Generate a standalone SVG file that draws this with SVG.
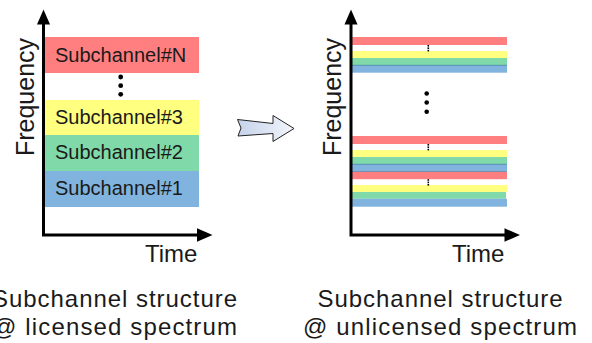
<svg xmlns="http://www.w3.org/2000/svg" width="592" height="343" viewBox="0 0 592 343">
  <defs>
    <style>
      text { font-family: "Liberation Sans", Arial, sans-serif; fill: #1a1a1a; }
      .lbl { font-size: 20px; }
      .axl { font-size: 24px; }
      .freq { font-size: 25px; text-anchor: middle; }
      .cap { font-size: 24px; text-anchor: middle; }
      .axis { stroke: #000; stroke-width: 3; fill: none; }
      .head { fill: #000; }
      .red { fill: #FF7F80; }
      .yel { fill: #FFFF80; }
      .grn { fill: #80D9A8; }
      .blu { fill: #80B4DE; }
      .sep { stroke: #3F7FA8; stroke-width: 0.8; }
      .dot { fill: #000; }
    </style>
    <linearGradient id="arrowFill" x1="0" y1="0" x2="1" y2="0">
      <stop offset="0" stop-color="#C5D3EA"/>
      <stop offset="1" stop-color="#F2F5FB"/>
    </linearGradient>
  </defs>

  <!-- Left chart: licensed spectrum -->
  <g id="licensed-bands">
    <rect class="red" x="43.5" y="37" width="155.5" height="36"/>
    <rect class="yel" x="43.5" y="100" width="155.5" height="35"/>
    <rect class="grn" x="43.5" y="135" width="155.5" height="36"/>
    <rect class="blu" x="43.5" y="171" width="155.5" height="36"/>
    <text class="lbl" x="55" y="62">Subchannel#N</text>
    <text class="lbl" x="55" y="124">Subchannel#3</text>
    <text class="lbl" x="55" y="159">Subchannel#2</text>
    <text class="lbl" x="55" y="195">Subchannel#1</text>
    <circle class="dot" cx="120.7" cy="77" r="2.4"/>
    <circle class="dot" cx="120.7" cy="85.7" r="2.4"/>
    <circle class="dot" cx="120.7" cy="94.3" r="2.4"/>
  </g>
  <g id="licensed-axes">
    <path class="axis" d="M43.5 22 V235 H198"/>
    <polygon class="head" points="43.5,9.5 37,24.5 50,24.5"/>
    <polygon class="head" points="212.5,235 197,228.3 197,241.7"/>
    <text class="freq" transform="translate(33.5 97) rotate(-90)">Frequency</text>
    <text class="axl" x="145" y="262">Time</text>
  </g>
  <g id="licensed-caption">
    <text class="cap" x="114.5" y="307" textLength="245" lengthAdjust="spacing">Subchannel structure</text>
    <text class="cap" x="114.5" y="335" textLength="245" lengthAdjust="spacing">@ licensed spectrum</text>
  </g>

  <!-- Transition arrow -->
  <g id="transition-arrow">
    <polygon points="237.5,119.5 273,123.5 273,115.5 294,128.5 273,141.5 273,133.5 238,136 241,128" fill="url(#arrowFill)" stroke="#222" stroke-width="1" stroke-linejoin="miter"/>
  </g>

  <!-- Right chart: unlicensed spectrum -->
  <g id="unlicensed-bands">
    <!-- top group -->
    <rect class="red" x="351" y="37" width="156" height="8"/>
    <rect class="yel" x="351" y="51" width="156" height="7"/>
    <rect class="grn" x="351" y="58" width="156" height="7.3"/>
    <rect class="blu" x="351" y="65.3" width="156" height="7.4"/>
    <line class="sep" x1="351" y1="65.3" x2="507" y2="65.3"/>
    <!-- middle group -->
    <rect class="red" x="351" y="136" width="156" height="8"/>
    <rect class="yel" x="351" y="150" width="156" height="7"/>
    <rect class="grn" x="351" y="157" width="156" height="7.3"/>
    <rect class="blu" x="351" y="164.3" width="156" height="7.2"/>
    <line class="sep" x1="351" y1="164.3" x2="507" y2="164.3"/>
    <line class="sep" x1="351" y1="171.5" x2="507" y2="171.5"/>
    <!-- bottom group -->
    <rect class="red" x="351" y="171.8" width="156" height="7.4"/>
    <rect class="yel" x="351" y="185" width="156" height="7"/>
    <rect class="grn" x="351" y="192" width="155" height="6.8"/>
    <rect class="blu" x="351" y="198.8" width="156" height="7.9"/>
    <!-- small ellipsis marks between red and yellow -->
    <g class="dot">
      <rect x="427.5" y="45" width="1.6" height="1.6"/>
      <rect x="427.5" y="47.4" width="1.6" height="1.6"/>
      <rect x="427.5" y="49.8" width="1.6" height="1.6"/>
      <rect x="427.5" y="144" width="1.6" height="1.6"/>
      <rect x="427.5" y="146.4" width="1.6" height="1.6"/>
      <rect x="427.5" y="148.8" width="1.6" height="1.6"/>
      <rect x="427.5" y="179.2" width="1.6" height="1.6"/>
      <rect x="427.5" y="181.6" width="1.6" height="1.6"/>
      <rect x="427.5" y="184" width="1.6" height="1.6"/>
    </g>
    <circle class="dot" cx="426.7" cy="93.5" r="2.3"/>
    <circle class="dot" cx="426.7" cy="102.5" r="2.3"/>
    <circle class="dot" cx="426.7" cy="111.8" r="2.3"/>
  </g>
  <g id="unlicensed-axes">
    <path class="axis" d="M351 22 V235 H505.5"/>
    <polygon class="head" points="351,9.5 344.5,24.5 357.5,24.5"/>
    <polygon class="head" points="520,235 504.5,228.3 504.5,241.7"/>
    <text class="freq" transform="translate(341 97) rotate(-90)">Frequency</text>
    <text class="axl" x="452" y="262">Time</text>
  </g>
  <g id="unlicensed-caption">
    <text class="cap" x="440" y="307" textLength="245" lengthAdjust="spacing">Subchannel structure</text>
    <text class="cap" x="440" y="335" textLength="274" lengthAdjust="spacing">@ unlicensed spectrum</text>
  </g>
</svg>
